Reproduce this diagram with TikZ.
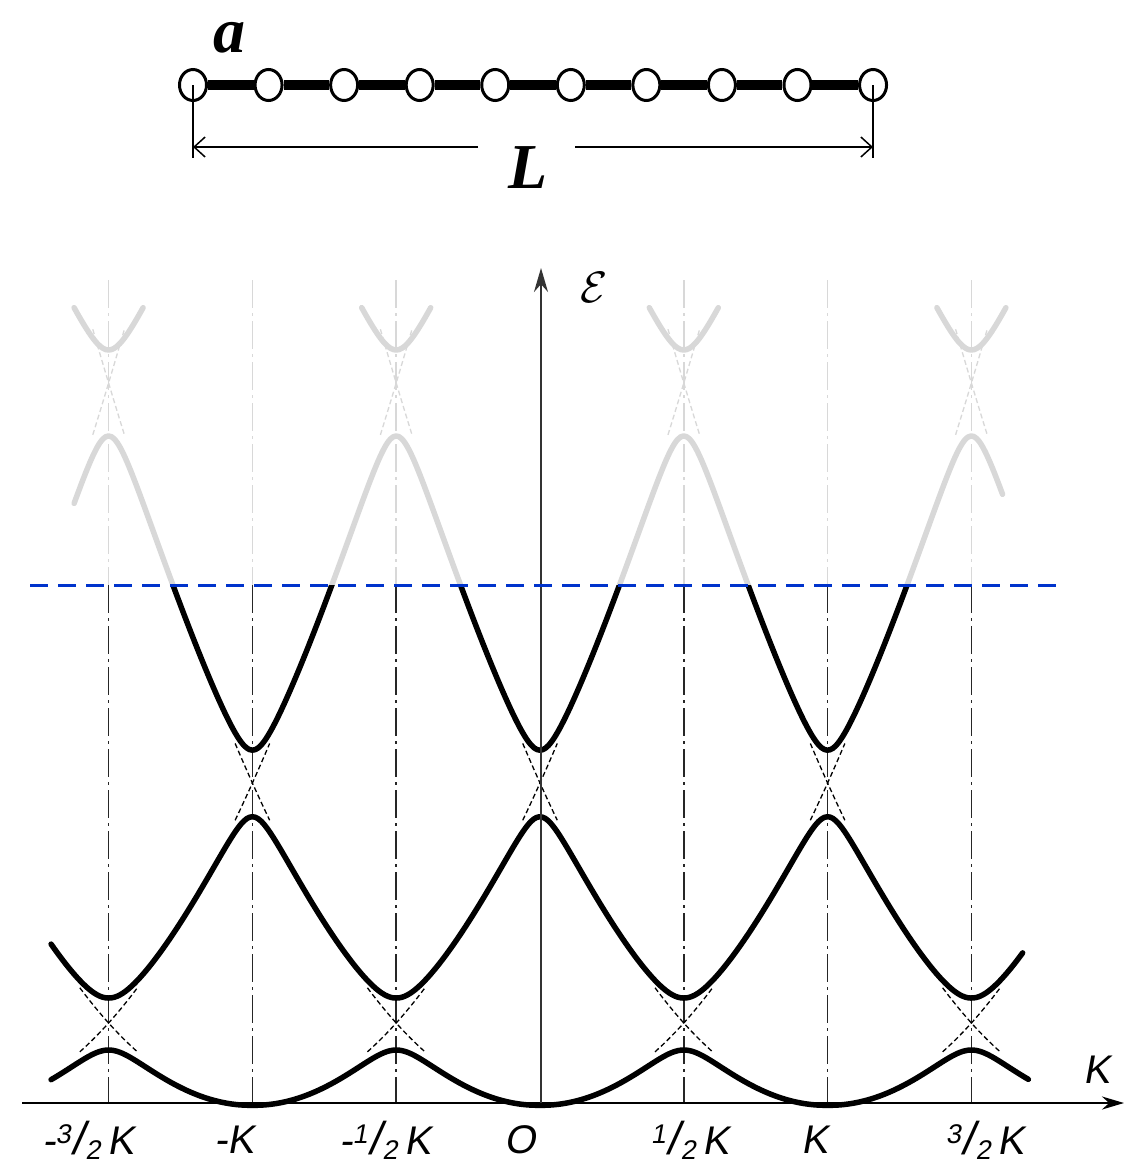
\documentclass[tikz,border=0pt]{standalone}
\usepackage{fontspec}
\setmainfont{Liberation Serif}
\newfontfamily\labfont[FakeSlant=0.18]{Liberation Sans}
\usetikzlibrary{arrows.meta,shapes.geometric}
\definecolor{bluedash}{RGB}{0,51,204}
\definecolor{ghost}{RGB}{216,216,216}
\newcommand\numfr[2]{{\fontsize{27pt}{27pt}\selectfont\raisebox{11pt}{#1}}\kern1pt{\fontsize{46pt}{46pt}\selectfont/}\kern1pt{\fontsize{27pt}{27pt}\selectfont\raisebox{-5pt}{#2}}}
\begin{document}
\begin{tikzpicture}[x=1pt,y=-1pt,
  declare function={
    rr(\q)=abs(\q-round(\q));
    dA(\w)=sqrt((1.6-3.2*\w)*(1.6-3.2*\w)+0.0729)-(1.6-3.2*\w);
    dB(\w)=sqrt(40.96*\w*\w+0.1296)-6.4*\w;
    dC(\w)=sqrt((4.8-9.6*\w)*(4.8-9.6*\w)+0.3025)-(4.8-9.6*\w);
    bA(\w)=3.2*\w*\w-dA(\w);
    bB(\w)=3.2*(1-\w)*(1-\w)+dA(\w)-dB(\w);
    bC(\w)=3.2*(1+\w)*(1+\w)+dB(\w)-dC(\w);
    bD(\w)=7.15+sqrt((5.9*(0.5-\w))*(5.9*(0.5-\w))+0.1444);
    px(\q)=540+287.6*\q;
    py(\q)=1103-100*\q;
  },
  atom/.style={draw,ellipse,line width=3pt,fill=white,minimum width=27pt,minimum height=31pt,inner sep=0pt},
  bond/.style={line width=10pt},
  dimline/.style={line width=1.5pt},
  dimarrow/.style={line width=1.5pt,-{Straight Barb[length=11pt,width=20pt,line width=1.5pt]}},
  bandline/.style={line width=5.5pt,line join=round,line cap=round},
  freeline/.style={line width=1.3pt,dash pattern=on 5pt off 3pt},
  zoneline/.style={line width=1.6pt,dash pattern=on 28pt off 5pt on 3pt off 5pt},
  lab/.style={font=\labfont\fontsize{40pt}{40pt}\selectfont,inner sep=0pt},
  big/.style={font=\bfseries\itshape\fontsize{64pt}{64pt}\selectfont,inner sep=0pt}
]
\useasboundingbox (0,0) rectangle (1128,1164);
\fill[white] (0,0) rectangle (1128,1164);

% ---------- chain ----------
\foreach \i in {0,...,9} \node[atom] (c\i) at ({193+75.56*\i},85) {};
\foreach \i [evaluate=\i as \j using int(\i+1)] in {0,...,8} \draw[bond] (c\i) -- (c\j);
\node[big] (alab) at (229,38) {a};
\coordinate (tl1) at (193,85); \coordinate (tl2) at (193,158);
\coordinate (tr1) at (873,85); \coordinate (tr2) at (873,158);
\draw[dimline] (tl1) -- (tl2);
\draw[dimline] (tr1) -- (tr2);
\node[big] (Llab) at (528,168) {L};
\coordinate (dl) at (193,147); \coordinate (dr) at (873,147);
\coordinate (gl) at (478,147); \coordinate (gr) at (575,147);
\draw[dimarrow] (gl) -- (dl);
\draw[dimarrow] (gr) -- (dr);

% ---------- zone lines ----------
\foreach \k in {-1.5,-1,-0.5,0.5,1,1.5}{
  \draw[zoneline,ghost] ({px(\k)},280) -- ({px(\k)},585);
  \draw[zoneline,black!85] ({px(\k)},585) -- ({px(\k)},1103);
}

% ---------- bands: ghost part ----------
\begin{scope}
\clip (0,0) rectangle (1128,585);
\begin{scope}[ghost]
\draw[bandline] plot[domain=-1.62:1.61,samples=324,smooth] ({px(\x)},{py(bC(rr(\x)))});
\foreach \cc in {-1.5,-0.5,0.5,1.5}{
  \draw[bandline] plot[domain=\cc-0.12:\cc+0.12,samples=25,smooth] ({px(\x)},{py(bD(rr(\x)))});
  \draw[freeline] plot[domain=\cc-0.055:\cc+0.055,samples=8] ({px(\x)},{py(3.2*(\x-\cc+1.5)*(\x-\cc+1.5))});
  \draw[freeline] plot[domain=\cc-0.055:\cc+0.055,samples=8] ({px(\x)},{py(3.2*(\x-\cc-1.5)*(\x-\cc-1.5))});
}
\end{scope}
\end{scope}

% ---------- bands: black part ----------
\begin{scope}
\clip (0,585) rectangle (1128,1164);
\draw[bandline] plot[domain=-1.7:1.7,samples=341,smooth] ({px(\x)},{py(bA(rr(\x)))});
\draw[bandline] plot[domain=-1.7:1.68,samples=339,smooth] ({px(\x)},{py(bB(rr(\x)))});
\draw[bandline] plot[domain=-1.62:1.61,samples=324,smooth] ({px(\x)},{py(bC(rr(\x)))});
\foreach \cc in {-1.5,-0.5,0.5,1.5}{
  \draw[freeline] plot[domain=\cc-0.1:\cc+0.1,samples=12] ({px(\x)},{py(3.2*(\x-\cc+0.5)*(\x-\cc+0.5))});
  \draw[freeline] plot[domain=\cc-0.1:\cc+0.1,samples=12] ({px(\x)},{py(3.2*(\x-\cc-0.5)*(\x-\cc-0.5))});
}
\foreach \cc in {-1,0,1}{
  \draw[freeline] plot[domain=\cc-0.06:\cc+0.06,samples=8] ({px(\x)},{py(3.2*(\x-\cc+1)*(\x-\cc+1))});
  \draw[freeline] plot[domain=\cc-0.06:\cc+0.06,samples=8] ({px(\x)},{py(3.2*(\x-\cc-1)*(\x-\cc-1))});
}
\end{scope}

% ---------- axes ----------
\coordinate (xs) at (22,1103); \coordinate (xe) at (1124,1103);
\coordinate (ys) at (541,1103); \coordinate (ye) at (541,268);
\draw[line width=2.5pt,-{Stealth[length=22pt,width=13pt]}] (xs) -- (xe);
\draw[line width=2pt,black!80,-{Stealth[length=24pt,width=14pt]}] (ys) -- (ye);
\node (Elab) at (594,287) {\scalebox{4.4}{$\mathcal{E}$}};
\node[lab] (Klab) at (1097,1070) {K};

% ---------- tick labels ----------
\node[lab] (t1) at (88,1140) {-\numfr{3}{2}\,K};
\node[lab] (t2) at (234,1140) {-K};
\node[lab] (t3) at (385,1140) {-\numfr{1}{2}\,K};
\node[lab] (t4) at (520,1140) {O};
\node[lab] (t5) at (690,1140) {\numfr{1}{2}\,K};
\node[lab] (t6) at (815,1140) {K};
\node[lab] (t7) at (985,1140) {\numfr{3}{2}\,K};

% ---------- blue energy level ----------
\coordinate (b1) at (30,585); \coordinate (b2) at (1056,585);
\draw[bluedash,line width=3pt,dash pattern=on 18pt off 10pt] (b1) -- (b2);
\end{tikzpicture}
\end{document}
